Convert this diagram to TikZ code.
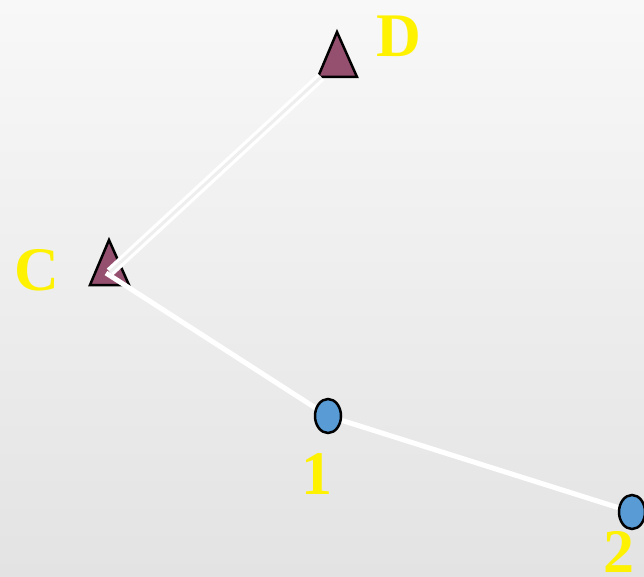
\documentclass[tikz,border=0pt]{standalone}
\usepackage{fontspec}
\setmainfont{Liberation Serif}
\usetikzlibrary{shapes.geometric}
\pgfdeclarelayer{bg}
\pgfdeclarelayer{mid}
\pgfsetlayers{bg,mid,main}
\begin{document}
\begin{tikzpicture}[x=1pt,y=-1pt,
  tri/.style={fill={rgb,255:red,149;green,80;blue,112},draw=black,line width=2.5pt,line join=miter},
  pt/.style={ellipse,draw=black,line width=2.5pt,fill={rgb,255:red,88;green,155;blue,213},minimum width=26pt,minimum height=34pt,inner sep=0pt},
  lab/.style={text=yellow,font=\bfseries\fontsize{62}{62}\selectfont,inner sep=0pt},
  wline/.style={draw=white,line width=5pt},
  dline/.style={draw=white,line width=3.2pt,double={rgb,255:red,238;green,238;blue,238},double distance=3pt}
]
\useasboundingbox (0,0) rectangle (644,577);
\begin{pgfonlayer}{bg}
\shade[top color={rgb,255:red,248;green,248;blue,248},bottom color={rgb,255:red,227;green,227;blue,227}] (0,0) rectangle (644,577);
\draw[tri] (337,32) -- (357,77) -- (318,77) -- cycle;
\draw[tri] (109,240) -- (129,285) -- (90,285) -- cycle;
\end{pgfonlayer}
\coordinate (D) at (337,60);
\coordinate (C) at (109,268);
\node[pt] (p1) at (328,416) {};
\node[pt] (p2) at (632,512) {};
\coordinate (Dend) at (321,77);
\coordinate (Cend) at (110,272);
\coordinate (Cstart) at (106,273);
\begin{pgfonlayer}{mid}
\draw[dline] (Dend) -- (Cend);
\draw[wline] (Cstart) -- (p1.center);
\draw[wline] (p1.center) -- (p2.center);
\end{pgfonlayer}
\node[lab] (lD) at (399,36) {D};
\node[lab] (lC) at (37,270) {C};
\node[lab] (l1) at (317,474) {1};
\node[lab] (l2) at (619,552) {2};
\end{tikzpicture}
\end{document}
